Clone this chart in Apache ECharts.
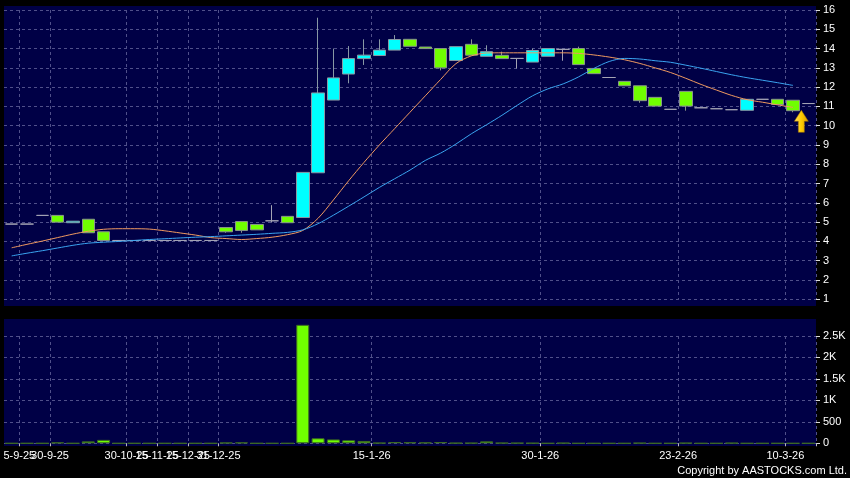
<!DOCTYPE html>
<html>
<head>
<meta charset="utf-8">
<script src="https://cdn.jsdelivr.net/npm/echarts@6/dist/echarts.min.js"></script>
<style>
html,body{margin:0;padding:0;background:#000;}
#chart{width:850px;height:478px;}
</style>
</head>
<body>
<div id="chart"></div>
<script>
// ---- data ----
const tickIndex = [1, 3, 8, 10, 12, 14, 24, 35, 44, 51];
const tickLabels = ['5-9-25', '30-9-25', '30-10-25', '15-11-25', '15-12-25', '31-12-25', '15-1-26', '30-1-26', '23-2-26', '10-3-26'];
const candleCount = 53;
const categories = Array.from({length: candleCount}, (_, i) => {
  const j = tickIndex.indexOf(i);
  return j >= 0 ? tickLabels[j] : 'c' + (i + 1);
});

// [open, close, low, high]
const ohlc = [
  [4.9, 4.9, 4.9, 4.9],
  [4.9, 4.9, 4.9, 4.9],
  [5.35, 5.35, 5.35, 5.35],
  [5.35, 5.0, 5.0, 5.35],
  [4.97, 5.05, 4.97, 5.05],
  [5.15, 4.45, 4.45, 5.15],
  [4.5, 4.05, 4.05, 4.5],
  [4.05, 4.05, 4.05, 4.05],
  [4.05, 4.05, 4.05, 4.05],
  [4.05, 4.05, 4.05, 4.05],
  [4.05, 4.05, 4.05, 4.05],
  [4.05, 4.05, 4.05, 4.05],
  [4.05, 4.05, 4.05, 4.05],
  [4.05, 4.05, 4.05, 4.05],
  [4.72, 4.5, 4.45, 4.72],
  [5.03, 4.57, 4.45, 5.03],
  [4.88, 4.6, 4.6, 4.88],
  [5.07, 5.07, 4.98, 5.88],
  [5.3, 4.97, 4.97, 5.3],
  [5.24, 7.58, 5.24, 7.58],
  [7.56, 11.7, 7.56, 15.6],
  [11.33, 12.48, 11.33, 14.0],
  [12.68, 13.48, 12.2, 14.13],
  [13.48, 13.66, 13.15, 14.48],
  [13.64, 13.92, 13.64, 14.48],
  [13.92, 14.47, 13.92, 14.7],
  [14.48, 14.12, 14.12, 14.48],
  [14.08, 14.0, 14.0, 14.08],
  [14.0, 13.0, 12.87, 14.0],
  [13.38, 14.1, 13.38, 14.1],
  [14.22, 13.66, 13.66, 14.48],
  [13.6, 13.84, 13.6, 14.17],
  [13.65, 13.48, 13.48, 13.84],
  [13.49, 13.49, 12.97, 13.49],
  [13.3, 13.9, 13.3, 14.0],
  [13.6, 14.0, 13.6, 14.0],
  [13.96, 13.96, 13.37, 13.96],
  [14.0, 13.17, 13.17, 14.1],
  [12.97, 12.7, 12.7, 12.97],
  [12.5, 12.5, 12.5, 12.5],
  [12.3, 12.07, 12.07, 12.3],
  [12.07, 11.3, 11.19, 12.07],
  [11.47, 11.02, 11.02, 11.47],
  [10.85, 10.85, 10.85, 10.85],
  [11.78, 11.02, 10.78, 11.78],
  [10.93, 10.93, 10.93, 10.93],
  [10.88, 10.88, 10.88, 10.88],
  [10.83, 10.83, 10.83, 10.83],
  [10.8, 11.37, 10.8, 11.37],
  [11.37, 11.37, 11.37, 11.37],
  [11.37, 11.1, 11.1, 11.37],
  [11.32, 10.78, 10.7, 11.32],
  [11.15, 11.15, 11.15, 11.15]
];

const maShort = [3.67, 3.85, 4.02, 4.2, 4.38, 4.53, 4.63, 4.66, 4.66, 4.64,
  4.55, 4.44, 4.33, 4.2, 4.15, 4.1, 4.15, 4.22, 4.35, 4.57,
  5.2, 6.15, 7.15, 8.1, 9.0, 9.85, 10.7, 11.55, 12.4, 13.22,
  13.62, 13.77, 13.78, 13.78, 13.78, 13.78, 13.78, 13.75, 13.67, 13.56,
  13.42, 13.23, 13.0, 12.76, 12.46, 12.14, 11.85, 11.57, 11.35, 11.22,
  11.08, 10.95, null];

const maLong = [3.25, 3.39, 3.52, 3.66, 3.8, 3.91, 3.96, 4.0, 4.05, 4.1,
  4.14, 4.18, 4.22, 4.25, 4.29, 4.33, 4.37, 4.42, 4.47, 4.6,
  4.92, 5.36, 5.83, 6.31, 6.8, 7.25, 7.7, 8.2, 8.58, 9.05,
  9.58, 10.05, 10.54, 11.06, 11.55, 11.91, 12.17, 12.53, 12.97, 13.33,
  13.49, 13.46, 13.37, 13.29, 13.14, 12.98, 12.81, 12.64, 12.49, 12.36,
  12.23, 12.09, null];

const volume = [0, 0, 0, 20, 0, 45, 80, 0, 0, 0,
  0, 0, 0, 0, 15, 20, 0, 0, 0, 2760,
  117, 90, 70, 55, 10, 30, 25, 20, 30, 8,
  8, 45, 10, 8, 5, 0, 8, 0, 0, 0,
  0, 8, 0, 0, 8, 0, 0, 8, 0, 0,
  0, 0, 0];

const priceTicks = {min: 1, max: 16, step: 1};
const volTicks = {min: 0, max: 2500, step: 500};
const lastMarker = {index: 52, value: 10.8};

// ---- chart ----
const FONT = "'Liberation Sans', Arial, sans-serif";
const NAVY = '#000046';
const GRIDC = '#50508a';
const showTick = (i) => tickIndex.indexOf(i) >= 0;
// index 0 is a placeholder label that is dropped by showMinLabel:false,
// so that overlapping real labels are all kept
const showLabel = (i) => i === 0 || tickIndex.indexOf(i) >= 0;

const chart = echarts.init(document.getElementById('chart'), null, {renderer: 'canvas'});

const splitStyle = {show: true, lineStyle: {color: GRIDC, type: [3, 3], width: 1}};

chart.setOption({
  backgroundColor: '#000',
  animation: false,
  graphic: [
    {type: 'rect', z: -10, silent: true, shape: {x: 4, y: 6, width: 812, height: 300}, style: {fill: NAVY}},
    {type: 'rect', z: -10, silent: true, shape: {x: 4, y: 319, width: 812, height: 127}, style: {fill: NAVY}},
    {type: 'text', right: 3, top: 465, style: {text: 'Copyright by AASTOCKS.com Ltd.', fill: '#ffffff', font: '11px ' + FONT}}
  ],
  grid: [
    {left: 4, top: 10, width: 812, height: 289.3},
    {left: 4, top: 336, width: 812, height: 107.3}
  ],
  xAxis: [
    {
      type: 'category', gridIndex: 0, data: categories, boundaryGap: true,
      axisLine: {show: false}, axisTick: {show: false}, axisLabel: {show: false},
      splitLine: Object.assign({interval: showTick}, splitStyle)
    },
    {
      type: 'category', gridIndex: 1, data: categories, boundaryGap: true, offset: 3,
      axisLine: {show: false},
      axisTick: {show: true, interval: showTick, length: 3, lineStyle: {color: '#bbbbbb'}},
      axisLabel: {
        show: true, interval: showLabel, color: '#ffffff', fontSize: 11, fontFamily: FONT, margin: 4,
        padding: [0, 15.3, 0, 0], showMinLabel: false, showMaxLabel: true, hideOverlap: false,
        formatter: (v, i) => { const j = tickIndex.indexOf(i); return j >= 0 ? tickLabels[j] : ''; }
      },
      splitLine: Object.assign({interval: showTick}, splitStyle)
    }
  ],
  yAxis: [
    {
      type: 'value', gridIndex: 0, position: 'right',
      min: priceTicks.min, max: priceTicks.max, interval: priceTicks.step,
      axisLine: {show: false},
      axisTick: {show: true, length: 4, lineStyle: {color: '#dddddd'}},
      axisLabel: {color: '#ffffff', fontSize: 11, fontFamily: FONT, margin: 7},
      splitLine: splitStyle
    },
    {
      type: 'value', gridIndex: 1, position: 'right',
      min: volTicks.min, max: volTicks.max, interval: volTicks.step,
      axisLine: {show: false},
      axisTick: {show: true, length: 4, lineStyle: {color: '#dddddd'}},
      axisLabel: {color: '#ffffff', fontSize: 11, fontFamily: FONT, margin: 7,
        formatter: (v) => v >= 1000 ? (v / 1000) + 'K' : String(v)},
      splitLine: splitStyle
    }
  ],
  series: [
    {
      type: 'candlestick', xAxisIndex: 0, yAxisIndex: 0, data: ohlc, barWidth: 13, z: 3,
      itemStyle: {
        color: '#00ffff', color0: '#70ff00',
        borderColor: '#8898a4', borderColor0: '#8a968a', borderColorDoji: '#a4a4b4',
        borderWidth: 1
      },
      markPoint: {
        silent: true,
        data: [{
          coord: [lastMarker.index, lastMarker.value],
          symbol: 'path://M7,0 L14,11 L10,11 L10,22 L4,22 L4,11 L0,11 Z',
          symbolSize: [14, 22], symbolOffset: [-7, 11],
          label: {show: false},
          itemStyle: {
            color: new echarts.graphic.LinearGradient(0, 0, 1, 0, [
              {offset: 0, color: '#ffe066'}, {offset: 0.5, color: '#ffcc00'}, {offset: 1, color: '#d89a00'}
            ]),
            borderColor: '#a07000', borderWidth: 0.5
          }
        }]
      }
    },
    {
      type: 'line', xAxisIndex: 0, yAxisIndex: 0, data: maShort, showSymbol: false, z: 4,
      lineStyle: {color: '#f09a60', width: 1}, smooth: 0.3
    },
    {
      type: 'line', xAxisIndex: 0, yAxisIndex: 0, data: maLong, showSymbol: false, z: 4,
      lineStyle: {color: '#3aa4f0', width: 1}, smooth: 0.3
    },
    {
      type: 'bar', xAxisIndex: 1, yAxisIndex: 1, data: volume, barWidth: 13, clip: false,
      itemStyle: {color: '#70ff00', borderColor: '#3c6a22', borderWidth: 1}
    }
  ]
});
</script>
</body>
</html>
